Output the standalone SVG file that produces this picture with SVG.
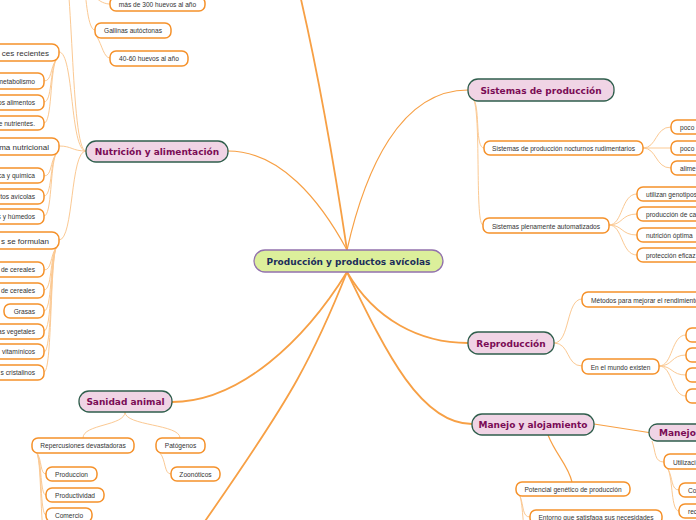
<svg xmlns="http://www.w3.org/2000/svg" width="696" height="520" viewBox="0 0 696 520">
<style>
.main{fill:none;stroke:#f7a045;stroke-width:1.8}
.mid{fill:none;stroke:#f7a045;stroke-width:1.2}
.sub{fill:none;stroke:#fbc993;stroke-width:1}
.box{fill:#fff;stroke:#f5912a;stroke-width:1.5}
.mbox{fill:#f0d4e5;stroke:#2f5e4c;stroke-width:1.3}
.t{font-family:"Liberation Sans",Arial,sans-serif;font-size:6.6px;fill:#333}
.tl{font-family:"Liberation Sans",Arial,sans-serif;font-size:8px;fill:#333}
.mt{font-family:"DejaVu Sans",Verdana,sans-serif;font-size:9px;font-weight:bold;fill:#7a0c55}
.c{text-anchor:middle}
.e{text-anchor:end}
</style>
<rect width="696" height="520" fill="#fff"/>
<g id="connectors">
<path class="main" d="M347,250 C338,190 322,90 300,-5"/>
<path class="mid" d="M347,250 C365,170 400,90 468,90"/>
<path class="mid" d="M347,250 C320,200 280,151 228,151"/>
<path class="main" d="M347,272 C375,320 420,343 468,343"/>
<path class="main" d="M347,272 C385,350 420,424 472,424"/>
<path class="main" d="M347,272 C305,340 240,402 172,402"/>
<path class="main" d="M347,272 Q322,335 297,380 T203,524"/>
<path class="sub" d="M86,151 C70,151 74,-40 60,-60"/>
<path class="sub" d="M86,151 C70,151 74,52 59,52"/>
<path class="sub" d="M86,151 C72,151 72,146 59,146"/>
<path class="sub" d="M86,151 C70,151 74,240 59,240"/>
<path class="sub" d="M56,60 C50,68 52,81 44,81"/>
<path class="sub" d="M56,60 C50,70 52,102 44,102"/>
<path class="sub" d="M56,60 C50,72 52,123 44,123"/>
<path class="sub" d="M56,154 C50,162 52,176 44,176"/>
<path class="sub" d="M56,154 C50,164 52,196 44,196"/>
<path class="sub" d="M56,154 C50,166 52,216 44,216"/>
<path class="sub" d="M56,248 C50,256 52,270 44,270"/>
<path class="sub" d="M56,248 C50,258 52,290 44,290"/>
<path class="sub" d="M56,248 C50,260 52,311 44,311"/>
<path class="sub" d="M56,248 C50,262 52,331 44,331"/>
<path class="sub" d="M56,248 C50,264 52,352 44,352"/>
<path class="sub" d="M56,248 C50,266 52,372 44,372"/>
<path class="sub" d="M88,-20 C90,-5 100,4 110,4"/>
<path class="sub" d="M84,-20 C86,0 88,30 95,30"/>
<path class="sub" d="M97,37 C102,45 104,58 110,58"/>
<path class="sub" d="M125,412 C125,426 83,424 83,438"/>
<path class="sub" d="M125,412 C125,426 180,424 180,438"/>
<path class="sub" d="M160,453 C166,460 164,474 171,474"/>
<path class="sub" d="M37,453 C42,460 40,474 46,474"/>
<path class="sub" d="M37,453 C42,462 40,495 46,495"/>
<path class="sub" d="M37,453 C42,464 40,515 46,515"/>
<path class="sub" d="M37,453 C42,466 40,540 46,540"/>
<path class="mid" d="M548,435 C556,455 568,465 572,482"/>
<path class="sub" d="M520,496 C524,506 522,517 530,517"/>
<path class="sub" d="M520,496 C524,510 522,540 530,540"/>
<path class="mid" d="M594,424 L652,433"/>
<path class="sub" d="M652,441 C656,452 654,462 664,462"/>
<path class="sub" d="M668,469 C673,478 671,490 679,490"/>
<path class="sub" d="M668,469 C673,480 671,511 679,511"/>
<path class="sub" d="M554,343 C570,343 566,299 582,299"/>
<path class="sub" d="M554,343 C570,343 566,366 582,366"/>
<path class="sub" d="M659,366 C673,366 671,335 686,335"/>
<path class="sub" d="M659,366 C673,366 671,355 686,355"/>
<path class="sub" d="M659,366 C673,366 671,375 686,375"/>
<path class="sub" d="M659,366 C673,366 671,396 686,396"/>
<path class="sub" d="M474,100 C480,110 475,148 484,148"/>
<path class="sub" d="M474,100 C481,120 475,225 483,225"/>
<path class="sub" d="M643,148 C657,148 655,127 671,127"/>
<path class="sub" d="M643,148 L671,148"/>
<path class="sub" d="M643,148 C657,148 655,168 671,168"/>
<path class="sub" d="M609,225 C623,225 621,194 637,194"/>
<path class="sub" d="M609,225 C623,225 621,214 637,214"/>
<path class="sub" d="M609,225 C623,225 621,235 637,235"/>
<path class="sub" d="M609,225 C623,225 621,255 637,255"/>
</g>
<g id="central">
<rect x="254" y="250" width="189" height="22" rx="11" fill="#dcef9b" stroke="#9271ad" stroke-width="1.3"/>
<text x="348.5" y="264.5" class="c" font-family="DejaVu Sans,Verdana,sans-serif" font-size="9" font-weight="bold" fill="#1b2d5a">Producción y productos avícolas</text>
</g>
<g id="sistemas"><rect class="mbox" x="468" y="79" width="146" height="22" rx="10"/><text class="mt c" x="541" y="93.5">Sistemas de producción</text></g>
<g id="nutricion"><rect class="mbox" x="86" y="141" width="142" height="21" rx="10"/><text class="mt c" x="157" y="155">Nutrición y alimentación</text></g>
<g id="reproduccion"><rect class="mbox" x="468" y="332" width="86" height="22" rx="10"/><text class="mt c" x="511" y="346.5">Reproducción</text></g>
<g id="manejo-alojamiento"><rect class="mbox" x="472" y="414" width="122" height="21" rx="10"/><text class="mt c" x="533" y="428">Manejo y alojamiento</text></g>
<g id="sanidad"><rect class="mbox" x="79" y="391" width="93" height="21" rx="10"/><text class="mt c" x="125.5" y="405">Sanidad animal</text></g>
<g id="manejo2"><rect class="mbox" x="649" y="424" width="70" height="17" rx="8"/><text class="mt" x="659" y="436">Manejo</text></g>

<g id="n-mas300"><rect class="box" x="110" y="-3" width="95" height="14" rx="6"/><text class="t c" x="157.5" y="6.5">más de 300 huevos al año</text></g>
<g id="n-gallinas"><rect class="box" x="95" y="23" width="76" height="15" rx="6"/><text class="t c" x="133" y="33">Gallinas autóctonas</text></g>
<g id="n-4060"><rect class="box" x="110" y="51" width="78" height="15" rx="6"/><text class="t c" x="149" y="61">40-60 huevos al año</text></g>

<g id="n-avances"><rect class="box" x="-40" y="44" width="99" height="17" rx="7"/><text class="tl e" x="49" y="55.5">ces recientes</text></g>
<g id="n-metab"><rect class="box" x="-40" y="73" width="84" height="16" rx="6"/><text class="t e" x="35" y="83.5">metabolismo</text></g>
<g id="n-alim"><rect class="box" x="-40" y="95" width="84" height="15" rx="6"/><text class="t e" x="35" y="105">os alimentos</text></g>
<g id="n-nutr"><rect class="box" x="-40" y="116" width="84" height="14" rx="6"/><text class="t e" x="35" y="125.5">e nutrientes.</text></g>
<g id="n-sistnut"><rect class="box" x="-40" y="138" width="99" height="17" rx="7"/><text class="tl e" x="49" y="149.5">ma nutricional</text></g>
<g id="n-quim"><rect class="box" x="-40" y="168" width="84" height="15" rx="6"/><text class="t e" x="35" y="178">ca y química</text></g>
<g id="n-avic"><rect class="box" x="-40" y="189" width="84" height="15" rx="6"/><text class="t e" x="35" y="199">tos avícolas</text></g>
<g id="n-hum"><rect class="box" x="-40" y="209" width="84" height="15" rx="6"/><text class="t e" x="35" y="219">s y húmedos</text></g>
<g id="n-form"><rect class="box" x="-40" y="232" width="99" height="17" rx="7"/><text class="tl e" x="49" y="243.5">s se formulan</text></g>
<g id="n-cer1"><rect class="box" x="-40" y="262" width="84" height="15" rx="6"/><text class="t e" x="35" y="272">de cereales</text></g>
<g id="n-cer2"><rect class="box" x="-40" y="283" width="84" height="15" rx="6"/><text class="t e" x="35" y="293">de cereales</text></g>
<g id="n-grasas"><rect class="box" x="4" y="304" width="40" height="14" rx="6"/><text class="t e" x="35" y="313.5">Grasas</text></g>
<g id="n-veg"><rect class="box" x="-40" y="324" width="84" height="15" rx="6"/><text class="t e" x="35" y="334">as vegetales</text></g>
<g id="n-vit"><rect class="box" x="-40" y="344" width="84" height="15" rx="6"/><text class="t e" x="35" y="354">vitamínicos</text></g>
<g id="n-crist"><rect class="box" x="-40" y="365" width="84" height="15" rx="6"/><text class="t e" x="35" y="375">s cristalinos</text></g>

<g id="n-reperc"><rect class="box" x="32" y="438" width="102" height="15" rx="6"/><text class="t c" x="83" y="448">Repercusiones devastadoras</text></g>
<g id="n-patog"><rect class="box" x="156" y="438" width="49" height="15" rx="6"/><text class="t c" x="180.5" y="448">Patógenos</text></g>
<g id="n-zoon"><rect class="box" x="171" y="467" width="49" height="14" rx="6"/><text class="t c" x="195.5" y="477">Zoonóticos</text></g>
<g id="n-produccion"><rect class="box" x="46" y="467" width="51" height="14" rx="6"/><text class="t c" x="71.5" y="477">Produccion</text></g>
<g id="n-productividad"><rect class="box" x="46" y="488" width="58" height="14" rx="6"/><text class="t c" x="75" y="498">Productividad</text></g>
<g id="n-comercio"><rect class="box" x="46" y="508" width="46" height="14" rx="6"/><text class="t c" x="69" y="518">Comercio</text></g>

<g id="n-potencial"><rect class="box" x="516" y="482" width="114" height="14" rx="6"/><text class="t c" x="573" y="492">Potencial genético de producción</text></g>
<g id="n-entorno"><rect class="box" x="530" y="510" width="132" height="14" rx="6"/><text class="t c" x="596" y="520">Entorno que satisfaga sus necesidades</text></g>
<g id="n-utiliz"><rect class="box" x="664" y="454" width="50" height="15" rx="6"/><text class="t" x="673" y="464.5">Utilizaci</text></g>
<g id="n-co"><rect class="box" x="679" y="483" width="30" height="14" rx="6"/><text class="t" x="688" y="493">Co</text></g>
<g id="n-rec"><rect class="box" x="679" y="504" width="30" height="14" rx="6"/><text class="t" x="688" y="514">rec</text></g>

<g id="n-metodos"><rect class="box" x="582" y="292" width="130" height="15" rx="6"/><text class="t" x="591" y="302.5">Métodos para mejorar el rendimiento</text></g>
<g id="n-mundo"><rect class="box" x="582" y="359" width="77" height="15" rx="6"/><text class="t c" x="620.5" y="369.5">En el mundo existen</text></g>
<g id="n-m1"><rect class="box" x="686" y="328" width="20" height="14" rx="6"/></g>
<g id="n-m2"><rect class="box" x="686" y="348" width="20" height="14" rx="6"/></g>
<g id="n-m3"><rect class="box" x="686" y="368" width="20" height="14" rx="6"/></g>
<g id="n-m4"><rect class="box" x="686" y="389" width="20" height="14" rx="6"/></g>

<g id="n-nocturnos"><rect class="box" x="484" y="141" width="159" height="14" rx="6"/><text class="t c" x="563.5" y="151">Sistemas de producción nocturnos rudimentarios</text></g>
<g id="n-autom"><rect class="box" x="483" y="218" width="126" height="15" rx="6"/><text class="t c" x="546" y="228.5">Sistemas plenamente automatizados</text></g>
<g id="n-poco1"><rect class="box" x="671" y="120" width="40" height="14" rx="6"/><text class="t" x="680" y="130">poco</text></g>
<g id="n-poco2"><rect class="box" x="671" y="141" width="40" height="14" rx="6"/><text class="t" x="680" y="151">poco</text></g>
<g id="n-alime"><rect class="box" x="671" y="161" width="40" height="14" rx="6"/><text class="t" x="680" y="171">alime</text></g>
<g id="n-genot"><rect class="box" x="637" y="187" width="70" height="14" rx="6"/><text class="t" x="646" y="197">utilizan genotipos</text></g>
<g id="n-prodca"><rect class="box" x="637" y="207" width="70" height="14" rx="6"/><text class="t" x="646" y="217">producción de ca</text></g>
<g id="n-nutop"><rect class="box" x="637" y="228" width="70" height="14" rx="6"/><text class="t" x="646" y="238">nutrición óptima</text></g>
<g id="n-protec"><rect class="box" x="637" y="248" width="70" height="14" rx="6"/><text class="t" x="646" y="258">protección eficaz</text></g>
</svg>
